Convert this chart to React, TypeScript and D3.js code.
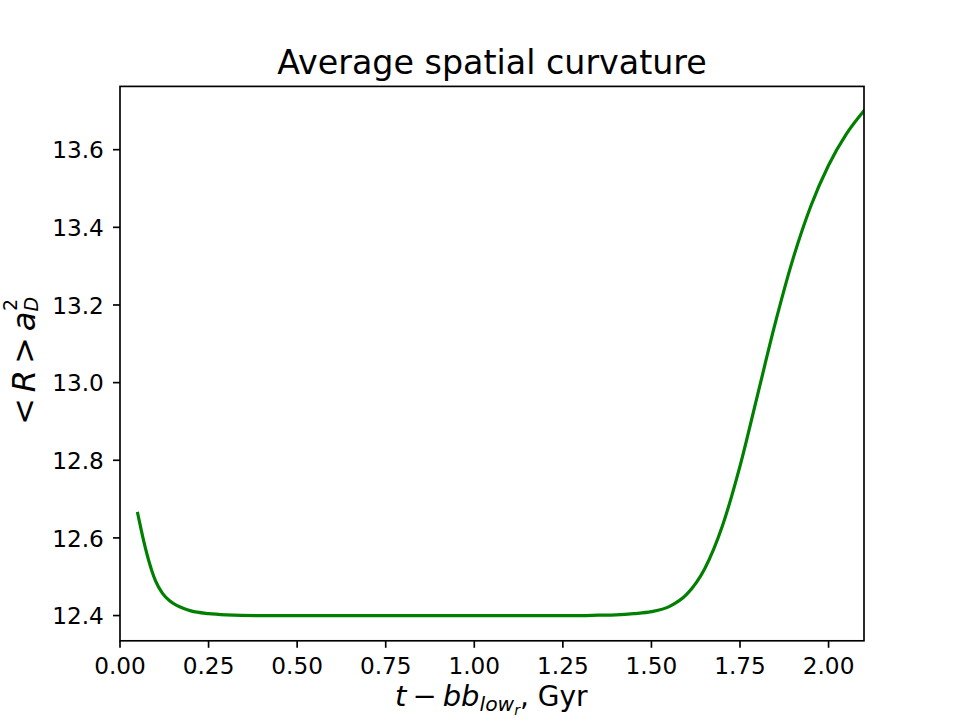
import React from "react";
import * as d3 from "d3";

const xValues = [
  0.05, 0.06, 0.07, 0.08, 0.09, 0.1, 0.12, 0.14, 0.16, 0.18, 0.2, 0.25, 0.3, 0.4,
  0.5, 0.6, 0.7, 0.8, 0.9, 1.0, 1.1, 1.2, 1.3, 1.35, 1.4, 1.45, 1.5, 1.55, 1.6,
  1.65, 1.7, 1.75, 1.8, 1.85, 1.9, 1.95, 2.0, 2.05, 2.1,
];
const curvature = [
  12.663, 12.62, 12.58, 12.545, 12.515, 12.49, 12.457, 12.438, 12.426, 12.418,
  12.412, 12.405, 12.402, 12.4, 12.4, 12.4, 12.4, 12.4, 12.4, 12.4, 12.4, 12.4,
  12.4, 12.401, 12.402, 12.405, 12.41, 12.423, 12.455, 12.52, 12.63, 12.785,
  12.97, 13.155, 13.32, 13.455, 13.56, 13.64, 13.7,
];
const xTicks = [0, 0.25, 0.5, 0.75, 1.0, 1.25, 1.5, 1.75, 2.0];
const yTicks = [12.4, 12.6, 12.8, 13.0, 13.2, 13.4, 13.6];

const W = 960;
const H = 720;
const left = 120;
const right = 864;
const top = 86.4;
const bottom = 640.8;
const FONT = "DejaVu Sans";

export default function App() {
  const x = d3.scaleLinear().domain([0, 2.1]).range([left, right]);
  const y = d3.scaleLinear().domain([12.335, 13.763]).range([bottom, top]);
  const pts = xValues.map((v, i) => [v, curvature[i]] as [number, number]);
  const line = d3
    .line<[number, number]>()
    .x((d) => x(d[0]))
    .y((d) => y(d[1]))
    .curve(d3.curveMonotoneX);
  const tickLen = 7;
  const sw = 1.67;
  const tickFont = 23.2;
  return (
    <svg
      width={W}
      height={H}
      style={{ position: "absolute", left: 0, top: 0, background: "#fff" }}
      fontFamily={FONT}
    >
      <rect x={0} y={0} width={W} height={H} fill="#fff" />
      <defs>
        <clipPath id="plotclip">
          <rect x={left} y={top} width={right - left} height={bottom - top} />
        </clipPath>
      </defs>
      <path
        d={line(pts) || ""}
        fill="none"
        stroke="#008000"
        strokeWidth={3.2}
        clipPath="url(#plotclip)"
        strokeLinejoin="round"
        strokeLinecap="square"
      />
      <rect
        x={left}
        y={top}
        width={right - left}
        height={bottom - top}
        fill="none"
        stroke="#000"
        strokeWidth={sw}
      />
      {xTicks.map((t) => (
        <g key={"x" + t}>
          <line x1={x(t)} x2={x(t)} y1={bottom} y2={bottom + tickLen} stroke="#000" strokeWidth={sw} />
          <text x={x(t)} y={674.3} textAnchor="middle" fontSize={tickFont} fill="#000">
            {d3.format(".2f")(t)}
          </text>
        </g>
      ))}
      {yTicks.map((t) => (
        <g key={"y" + t}>
          <line x1={left - tickLen} x2={left} y1={y(t)} y2={y(t)} stroke="#000" strokeWidth={sw} />
          <text x={103.8} y={y(t) + 8.6} textAnchor="end" fontSize={tickFont} fill="#000">
            {d3.format(".1f")(t)}
          </text>
        </g>
      ))}
      <text x={(left + right) / 2} y={74} textAnchor="middle" fontSize={33.3} fill="#000">
        Average spatial curvature
      </text>
      <text x={395} y={706} textAnchor="start" fontSize={29} fill="#000">
        <tspan fontStyle="italic">t</tspan>
        <tspan dx={6}>−</tspan>
        <tspan fontStyle="italic" dx={6}>bb</tspan>
        <tspan fontStyle="italic" fontSize={20.3} dy={5}>low</tspan>
        <tspan fontStyle="italic" fontSize={14.2} dy={3.5}>r</tspan>
        <tspan fontSize={28} dy={-8.5}>, Gyr</tspan>
      </text>
      <g transform={`translate(35, 425) rotate(-90)`}>
        <text x={0} y={0} textAnchor="start" fontSize={32} fill="#000">
          <tspan>&lt;</tspan>
          <tspan fontStyle="italic" dx={6}>R</tspan>
          <tspan dx={6}>&gt;</tspan>
          <tspan fontStyle="italic" dx={6}>a</tspan>
          <tspan fontStyle="italic" fontSize={19} dy={3}>D</tspan>
          <tspan fontSize={19} dx={-14} dy={-21}>2</tspan>
        </text>
      </g>
    </svg>
  );
}
